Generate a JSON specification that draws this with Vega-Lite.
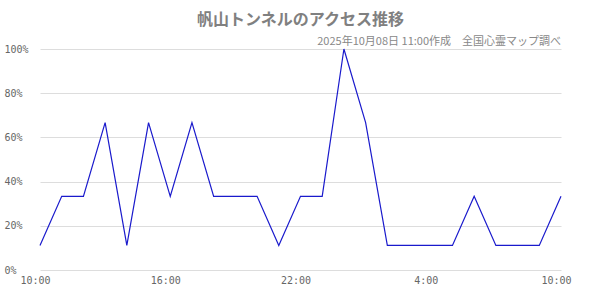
{
  "$schema": "https://vega.github.io/schema/vega-lite/v6.json",
  "width": 521,
  "height": 221,
  "autosize": {"type": "none"},
  "padding": {"left": 40, "top": 49, "right": 39, "bottom": 30},
  "background": "white",
  "title": {
    "text": "帆山トンネルのアクセス推移",
    "anchor": "middle",
    "frame": "group",
    "font": "Noto Sans CJK JP",
    "fontSize": 16,
    "fontWeight": "bold",
    "color": "#808080",
    "offset": 8
  },
  "config": {
    "view": {"stroke": null},
    "axis": {
      "labelFont": "DejaVu Sans Mono",
      "labelFontSize": 10,
      "labelColor": "#666666",
      "ticks": false,
      "domain": false,
      "gridColor": "#dddddd",
      "gridWidth": 1,
      "title": null
    }
  },
  "data": {
    "values": [
      {"t": "2025-10-07T10:00", "v": 0.1111},
      {"t": "2025-10-07T11:00", "v": 0.3333},
      {"t": "2025-10-07T12:00", "v": 0.3333},
      {"t": "2025-10-07T13:00", "v": 0.6667},
      {"t": "2025-10-07T14:00", "v": 0.1111},
      {"t": "2025-10-07T15:00", "v": 0.6667},
      {"t": "2025-10-07T16:00", "v": 0.3333},
      {"t": "2025-10-07T17:00", "v": 0.6667},
      {"t": "2025-10-07T18:00", "v": 0.3333},
      {"t": "2025-10-07T19:00", "v": 0.3333},
      {"t": "2025-10-07T20:00", "v": 0.3333},
      {"t": "2025-10-07T21:00", "v": 0.1111},
      {"t": "2025-10-07T22:00", "v": 0.3333},
      {"t": "2025-10-07T23:00", "v": 0.3333},
      {"t": "2025-10-08T00:00", "v": 1.0},
      {"t": "2025-10-08T01:00", "v": 0.6667},
      {"t": "2025-10-08T02:00", "v": 0.1111},
      {"t": "2025-10-08T03:00", "v": 0.1111},
      {"t": "2025-10-08T04:00", "v": 0.1111},
      {"t": "2025-10-08T05:00", "v": 0.1111},
      {"t": "2025-10-08T06:00", "v": 0.3333},
      {"t": "2025-10-08T07:00", "v": 0.1111},
      {"t": "2025-10-08T08:00", "v": 0.1111},
      {"t": "2025-10-08T09:00", "v": 0.1111},
      {"t": "2025-10-08T10:00", "v": 0.3333}
    ]
  },
  "layer": [
    {
      "mark": {"type": "line", "color": "#1a1acc", "strokeWidth": 1.2},
      "encoding": {
        "x": {
          "field": "t",
          "type": "temporal",
          "scale": {"nice": false},
          "axis": {
            "grid": false,
            "format": "%-H:%M",
            "values": [
              {"year": 2025, "month": 10, "date": 7, "hours": 10},
              {"year": 2025, "month": 10, "date": 7, "hours": 16},
              {"year": 2025, "month": 10, "date": 7, "hours": 22},
              {"year": 2025, "month": 10, "date": 8, "hours": 4},
              {"year": 2025, "month": 10, "date": 8, "hours": 10}
            ],
            "labelPadding": 5,
            "labelOffset": -5,
            "labelFlush": false,
            "labelOverlap": false
          }
        },
        "y": {
          "field": "v",
          "type": "quantitative",
          "scale": {"domain": [0, 1], "nice": false},
          "axis": {
            "values": [0, 0.2, 0.4, 0.6, 0.8, 1],
            "format": ".0%",
            "labelAlign": "left",
            "labelPadding": 36,
            "labelBaseline": "middle"
          }
        }
      }
    },
    {
      "data": {"values": [{"label": "2025年10月08日 11:00作成　全国心霊マップ調べ", "t": "2025-10-08T10:00", "v": 1}]},
      "mark": {
        "type": "text",
        "align": "right",
        "baseline": "bottom",
        "dy": -2,
        "font": "Noto Sans CJK JP",
        "fontSize": 11,
        "color": "#888888"
      },
      "encoding": {
        "x": {"field": "t", "type": "temporal"},
        "y": {"field": "v", "type": "quantitative"},
        "text": {"field": "label"}
      }
    }
  ]
}
